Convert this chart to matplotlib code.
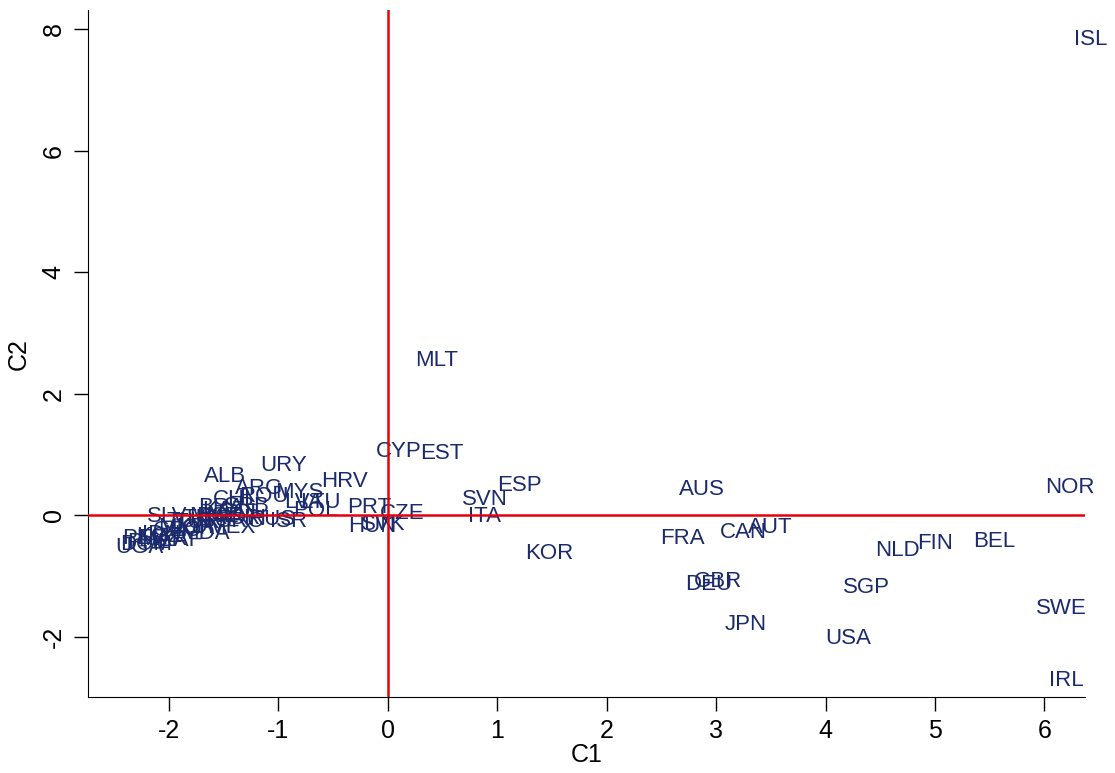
import matplotlib.pyplot as plt

plt.rcParams['font.family'] = ['Liberation Sans', 'DejaVu Sans']
plt.rcParams['axes.unicode_minus'] = False

# country codes with their component scores (C1, C2)
codes = ["ISL", "NOR", "IRL", "SWE", "BEL", "FIN", "NLD", "SGP", "USA", "JPN",
         "AUT", "CAN", "FRA", "AUS", "GBR", "DEU", "KOR", "ESP", "SVN", "ITA",
         "EST", "CYP", "MLT", "CZE", "PRT", "HUN", "SVK", "HRV", "URY", "ALB",
         "ARG", "ROU", "MYS", "POL", "LVA", "LTU", "RUS", "ISR", "SRB", "CHL",
         "BRA", "BGR", "COL", "CRI", "MEX", "THA", "TUR", "MNE", "KAZ", "GRC",
         "SLV", "TUN", "JOR", "MKD", "MDA", "GEO", "IDN", "PER", "PHL", "KGZ",
         "UGA", "ZAF", "MAR", "DOM"]
c1 = [6.27, 6.01, 6.04, 5.92, 5.35, 4.84, 4.45, 4.16, 4.00, 3.08,
      3.29, 3.03, 2.49, 2.66, 2.80, 2.72, 1.25, 1.00, 0.68, 0.73,
      0.29, -0.11, 0.25, -0.07, -0.37, -0.36, -0.25, -0.61, -1.17, -1.68,
      -1.40, -1.36, -1.03, -0.87, -0.95, -0.80, -1.28, -1.08, -1.50, -1.60,
      -1.73, -1.75, -1.55, -1.45, -1.65, -1.88, -1.95, -1.82, -1.70, -1.58,
      -2.20, -2.02, -1.98, -2.10, -1.90, -2.15, -2.25, -2.43, -2.38, -2.30,
      -2.49, -2.08, -2.28, -2.45]
c2 = [7.84, 0.46, -2.72, -1.53, -0.43, -0.46, -0.58, -1.19, -2.03, -1.80,
      -0.21, -0.28, -0.38, 0.43, -1.10, -1.15, -0.64, 0.48, 0.26, -0.03,
      1.02, 1.04, 2.54, 0.03, 0.12, -0.18, -0.16, 0.56, 0.81, 0.64,
      0.44, 0.30, 0.38, 0.07, 0.20, 0.20, -0.08, -0.10, 0.15, 0.25,
      0.12, -0.02, 0.05, -0.05, -0.20, -0.05, -0.12, -0.02, 0.08, -0.10,
      -0.02, -0.10, -0.22, -0.20, -0.30, -0.25, -0.32, -0.38, -0.45, -0.35,
      -0.53, -0.42, -0.40, -0.48]

fig = plt.figure(figsize=(11.15, 7.73), dpi=100)
ax = fig.add_axes([0.079, 0.098, 0.894, 0.889])

navy = "#1a2a6c"
for code, x, y in zip(codes, c1, c2):
    ax.text(x, y, code, color=navy, fontsize=16, ha="left", va="center")

ax.axhline(0, color="#e8000b", lw=1.8, zorder=3)
ax.axvline(0, color="#e8000b", lw=1.8, zorder=3)

ax.set_xlim(-2.74, 6.37)
ax.set_ylim(-3.0, 8.32)
ax.set_xticks(range(-2, 7))
ax.set_yticks(range(-2, 9, 2))
ax.tick_params(direction="out", length=10, width=1, labelsize=18, pad=6)
for lab in ax.get_yticklabels():
    lab.set_rotation(90)
    lab.set_va("center")
ax.set_xlabel("C1", fontsize=18, labelpad=0)
ax.set_ylabel("C2", fontsize=18, labelpad=8)
ax.spines["top"].set_visible(False)
ax.spines["right"].set_visible(False)

fig.savefig("out.png", dpi=100)
